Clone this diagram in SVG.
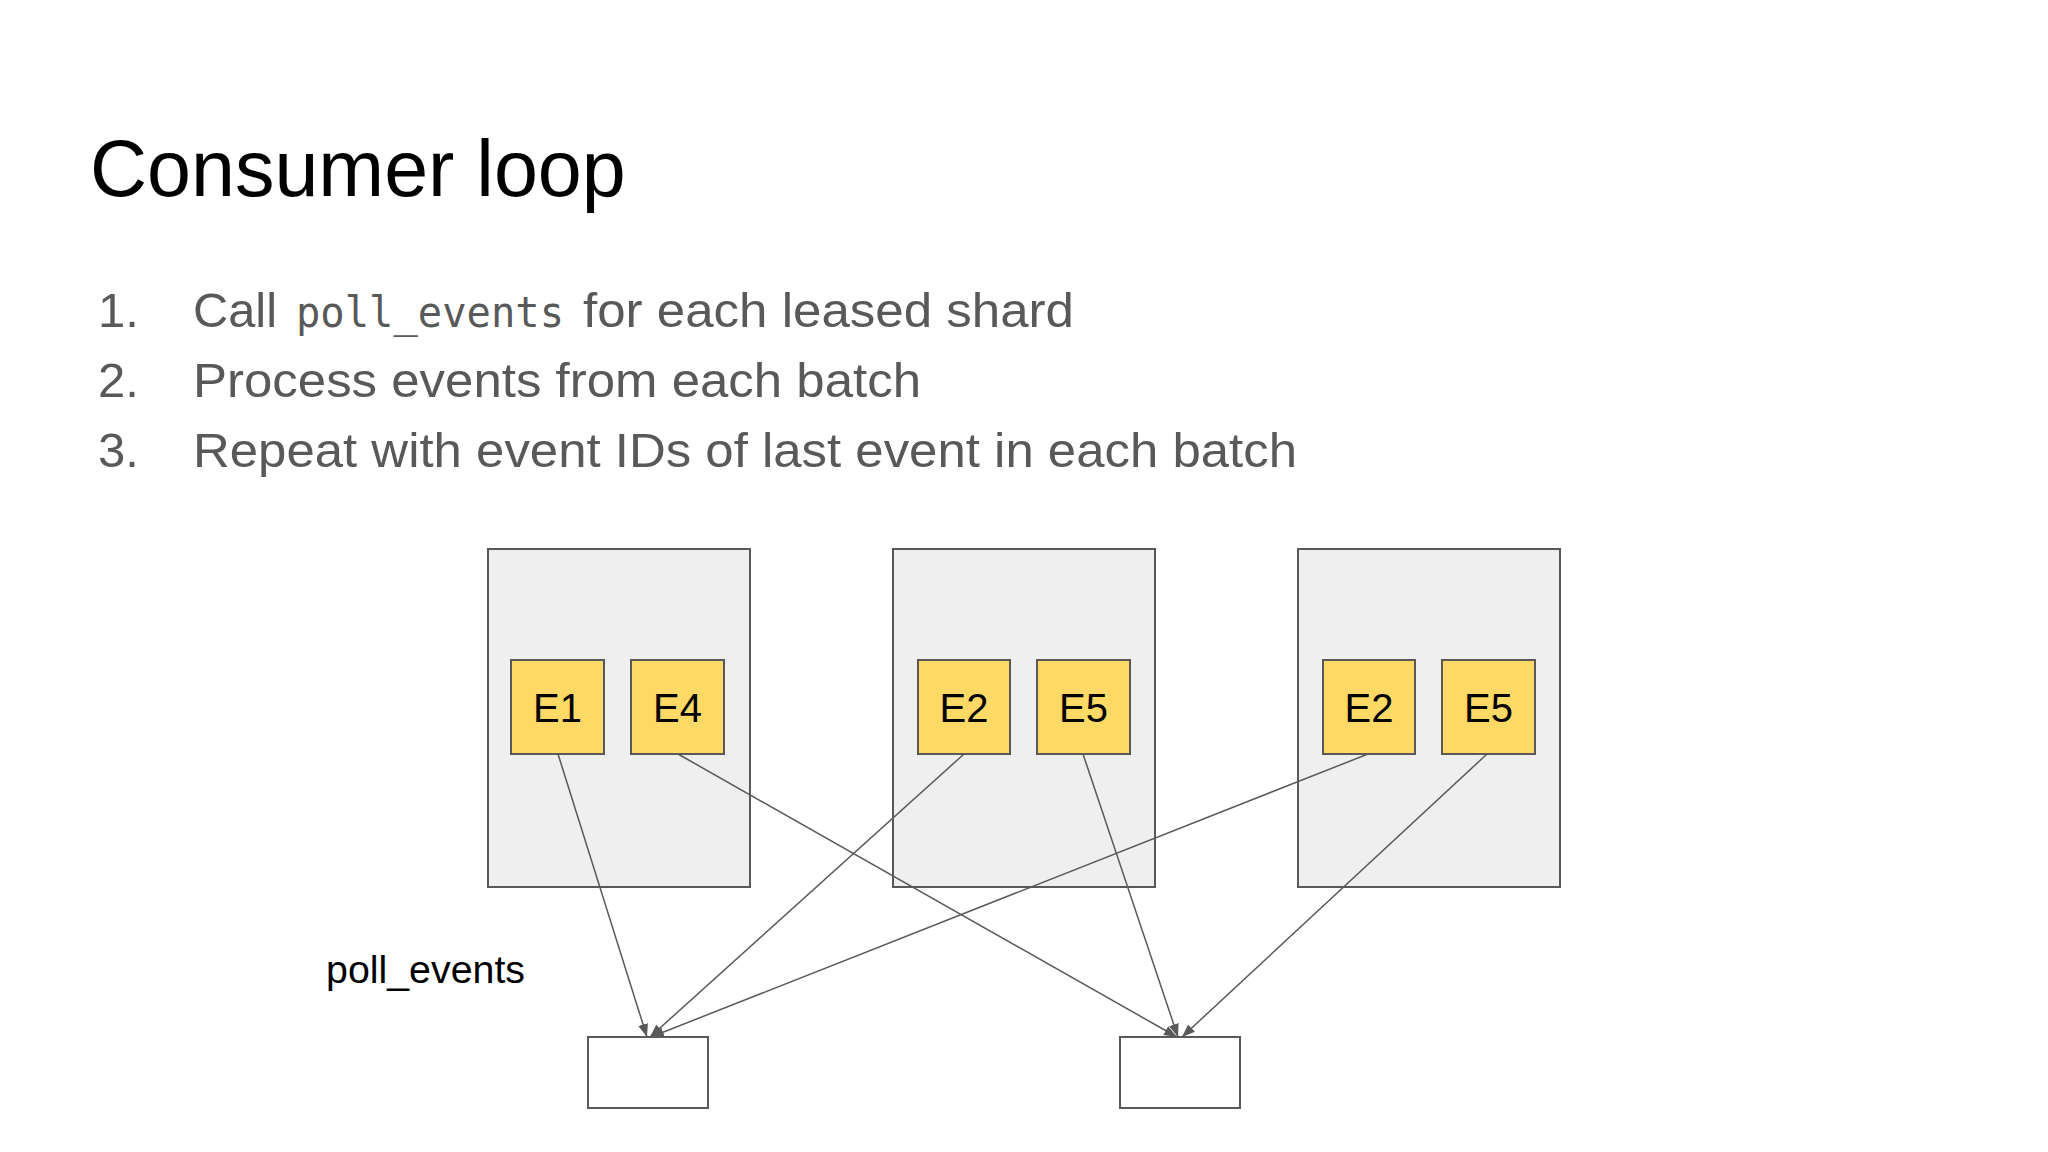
<svg xmlns="http://www.w3.org/2000/svg" width="2048" height="1152" viewBox="0 0 2048 1152">
<style>
.title{font-family:"Liberation Sans",Arial,sans-serif;font-size:79px;fill:#000}
.body{font-family:"Liberation Sans",Arial,sans-serif;font-size:49px;fill:#595959}
.mono{font-family:"DejaVu Sans Mono","Liberation Mono",monospace;font-size:42px;fill:#595959}
.shard{fill:#efefef;stroke:#595959;stroke-width:2}
.ev{fill:#ffd966;stroke:#595959;stroke-width:2}
.evt{font-family:"Liberation Sans",Arial,sans-serif;font-size:40px;fill:#000;text-anchor:middle}
.out{fill:#fff;stroke:#595959;stroke-width:2}
.lbl{font-family:"Liberation Sans",Arial,sans-serif;font-size:39px;fill:#000}
.conn{stroke:#595959;stroke-width:1.5;fill:none;marker-end:url(#arr)}
</style>
<defs>
<marker id="arr" markerUnits="userSpaceOnUse" markerWidth="14" markerHeight="10" refX="13" refY="5" orient="auto">
<path d="M0,0 L13,5 L0,10 z" fill="#595959"/>
</marker>
</defs>
<rect width="2048" height="1152" fill="#fff"/>
<text class="title" x="90" y="196">Consumer loop</text>
<g id="list">
<text class="body" x="98" y="327">1.</text>
<text class="body" x="193" y="327" textLength="84" lengthAdjust="spacingAndGlyphs">Call</text>
<text class="mono" x="296" y="327" textLength="268" lengthAdjust="spacingAndGlyphs">poll_events</text>
<text class="body" x="583" y="327" textLength="491" lengthAdjust="spacingAndGlyphs">for each leased shard</text>
<text class="body" x="98" y="397">2.</text>
<text class="body" x="193" y="397" textLength="728" lengthAdjust="spacingAndGlyphs">Process events from each batch</text>
<text class="body" x="98" y="467">3.</text>
<text class="body" x="193" y="467" textLength="1104" lengthAdjust="spacingAndGlyphs">Repeat with event IDs of last event in each batch</text>
</g>
<g id="shard1">
<rect class="shard" x="488" y="549" width="262" height="338"/>
<g id="s1e1"><rect class="ev" x="511" y="660" width="93" height="94"/><text class="evt" x="557.5" y="722">E1</text></g>
<g id="s1e4"><rect class="ev" x="631" y="660" width="93" height="94"/><text class="evt" x="677.5" y="722">E4</text></g>
</g>
<g id="shard2">
<rect class="shard" x="893" y="549" width="262" height="338"/>
<g id="s2e2"><rect class="ev" x="918" y="660" width="92" height="94"/><text class="evt" x="964" y="722">E2</text></g>
<g id="s2e5"><rect class="ev" x="1037" y="660" width="93" height="94"/><text class="evt" x="1083.5" y="722">E5</text></g>
</g>
<g id="shard3">
<rect class="shard" x="1298" y="549" width="262" height="338"/>
<g id="s3e2"><rect class="ev" x="1323" y="660" width="92" height="94"/><text class="evt" x="1369" y="722">E2</text></g>
<g id="s3e5"><rect class="ev" x="1442" y="660" width="93" height="94"/><text class="evt" x="1488.5" y="722">E5</text></g>
</g>
<g id="label"><text class="lbl" x="326" y="983" textLength="199" lengthAdjust="spacingAndGlyphs">poll_events</text></g>
<g id="batch1"><rect class="out" x="588" y="1037" width="120" height="71"/></g>
<g id="batch2"><rect class="out" x="1120" y="1037" width="120" height="71"/></g>
<g id="connectors">
<line class="conn" x1="558" y1="754" x2="647" y2="1037"/>
<line class="conn" x1="964" y1="754" x2="650" y2="1037"/>
<line class="conn" x1="1368" y1="754" x2="651" y2="1037"/>
<line class="conn" x1="678" y1="754" x2="1177" y2="1037"/>
<line class="conn" x1="1083" y1="754" x2="1178" y2="1037"/>
<line class="conn" x1="1487" y1="754" x2="1182" y2="1037"/>
</g>
</svg>
